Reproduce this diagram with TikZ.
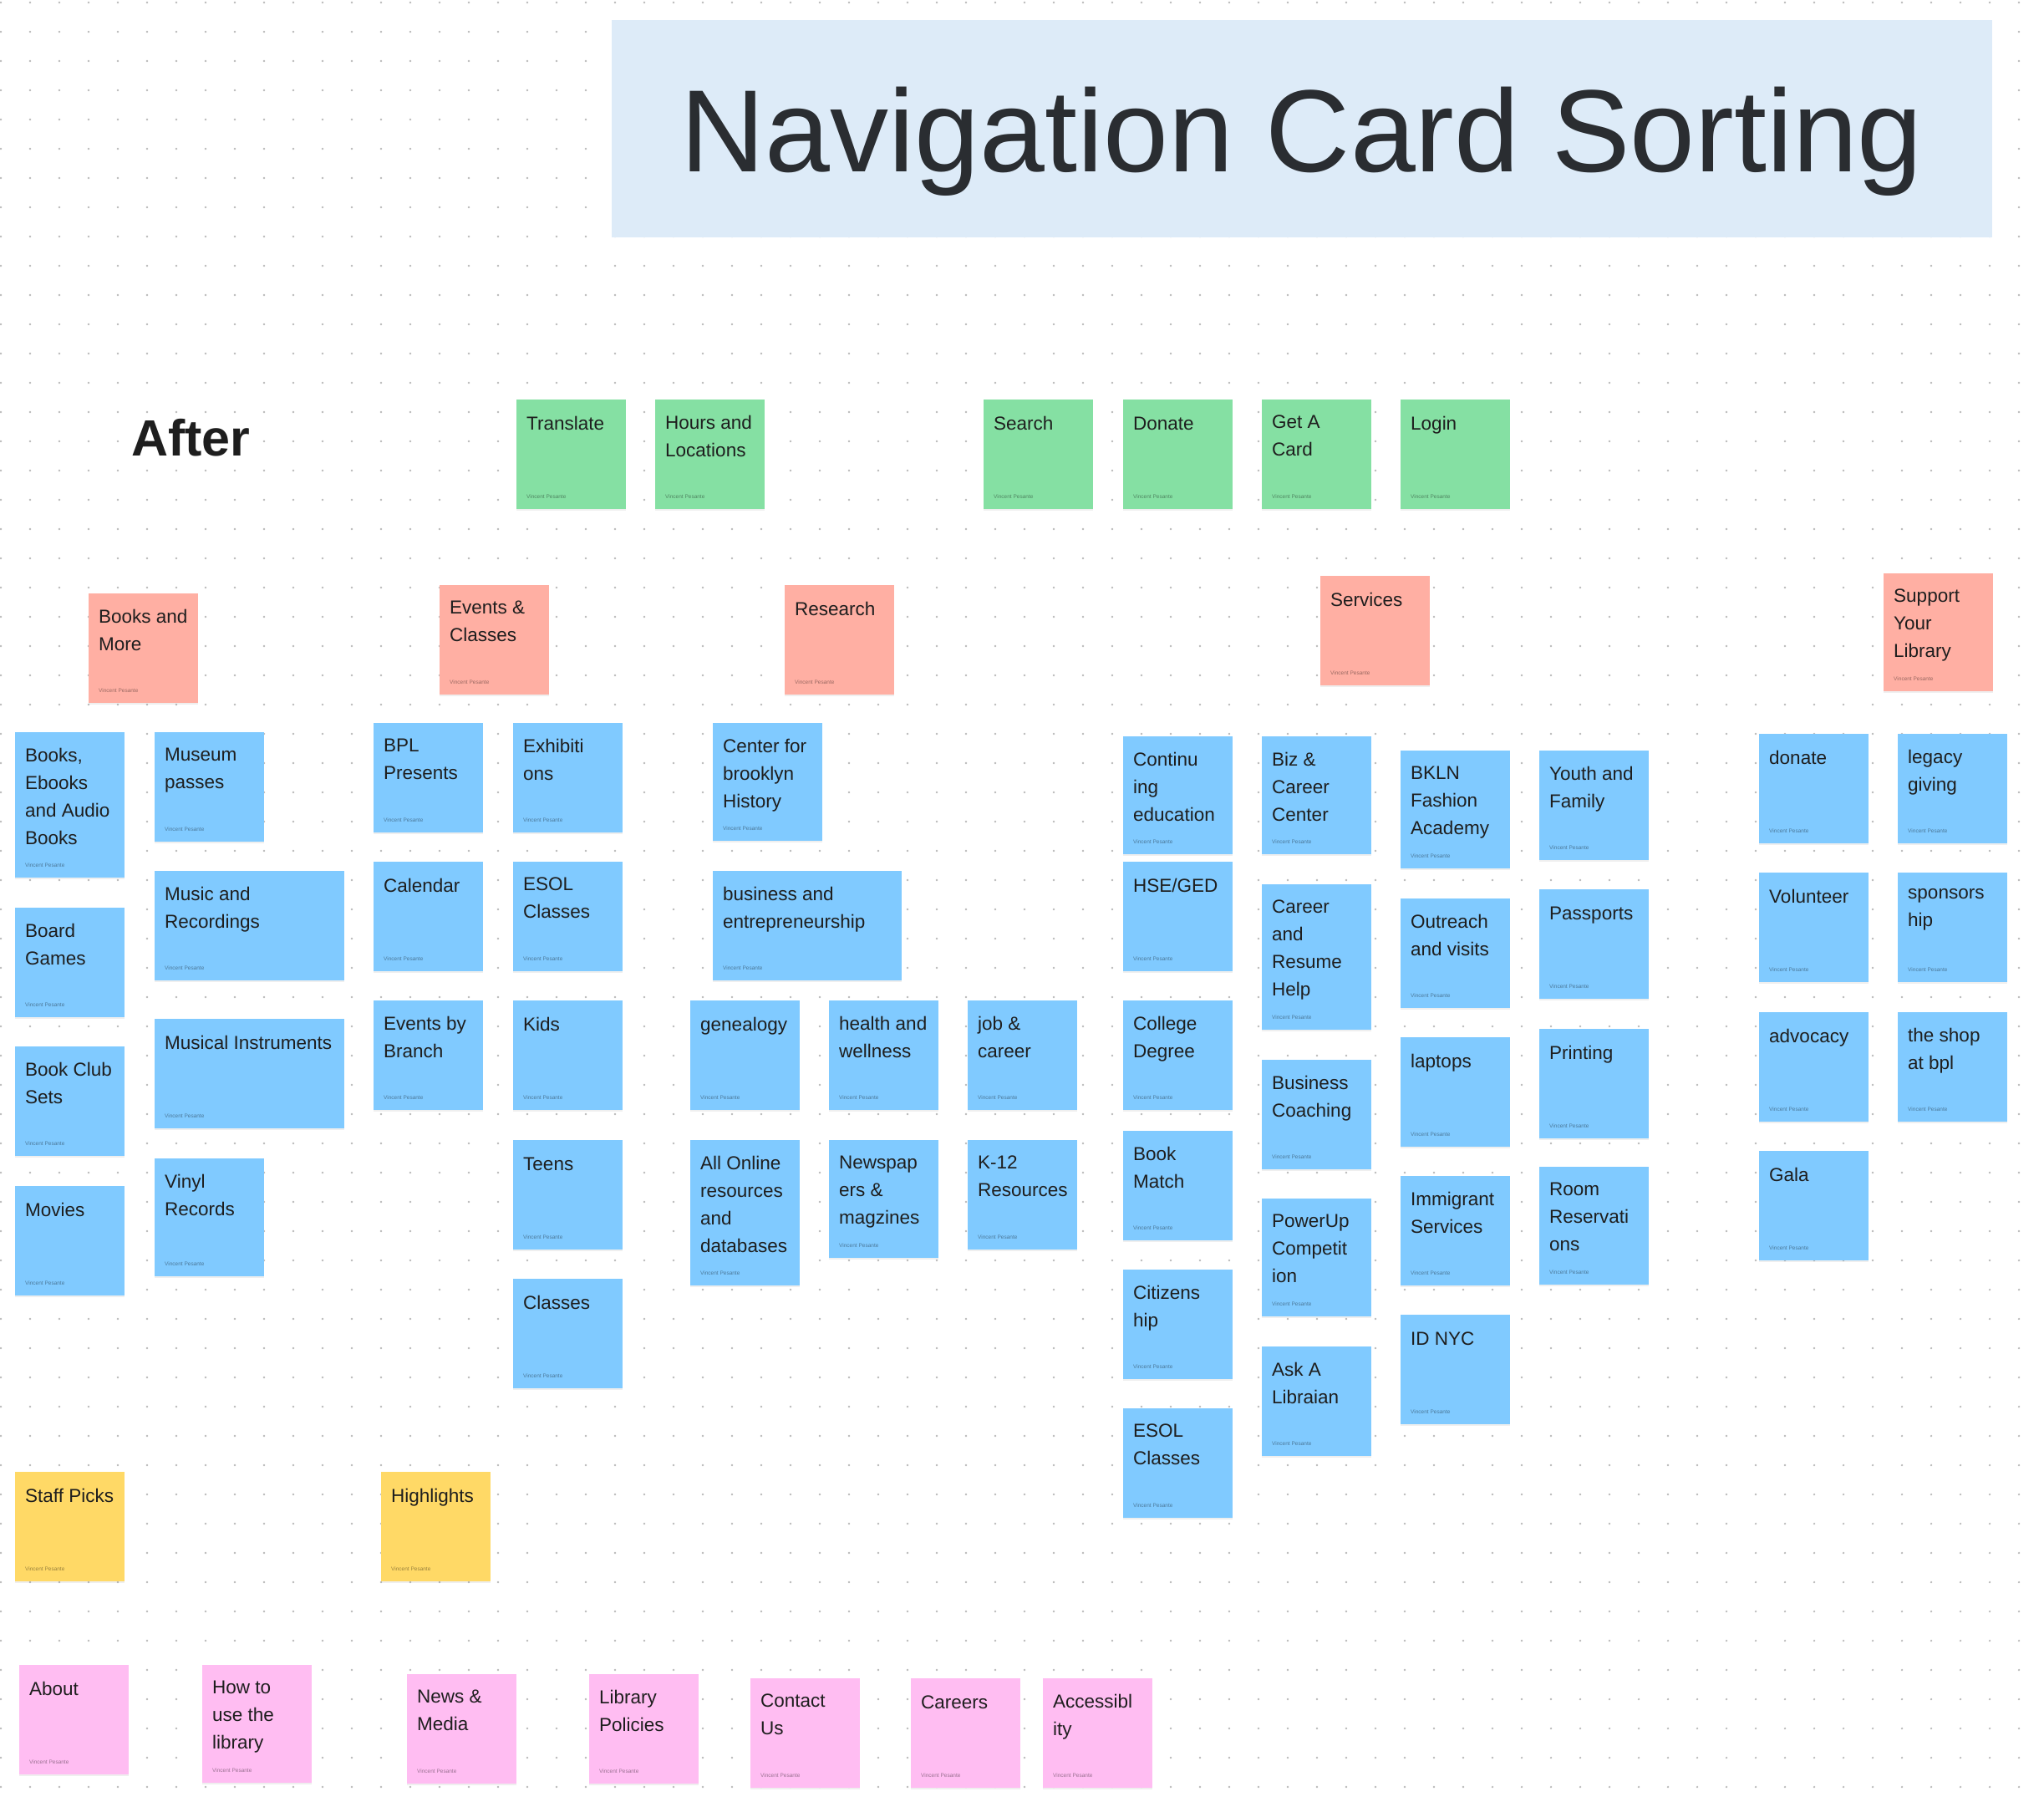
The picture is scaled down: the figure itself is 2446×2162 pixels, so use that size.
\documentclass[tikz,border=0pt]{standalone}
\usepackage{fontspec}
\setmainfont{Liberation Sans}
\usetikzlibrary{shadows}

\definecolor{ngreen}{HTML}{85E0A3}
\definecolor{nred}{HTML}{FFAFA3}
\definecolor{nblue}{HTML}{80CAFF}
\definecolor{nyellow}{HTML}{FFD966}
\definecolor{npink}{HTML}{FFBDF2}
\definecolor{sectionblue}{HTML}{DDEBF8}
\definecolor{inkdark}{HTML}{1E1E1E}
\definecolor{titleink}{HTML}{2A2D31}
\definecolor{dotgray}{HTML}{B9B9B9}

\tikzset{
  note/.style={rectangle, anchor=north west, inner sep=0pt,
    drop shadow={opacity=0.12, shadow xshift=0pt, shadow yshift=-2pt}},
  notetext/.style={anchor=north west, inner sep=0pt, align=left,
    xshift=12pt, yshift=-19pt, text=inkdark,
    font=\fontsize{22.5}{33}\selectfont,
    execute at begin node={\rule{0pt}{17pt}}},
  noteby/.style={anchor=base west, inner sep=0pt, xshift=12pt, yshift=13pt,
    text=black, text opacity=0.4, font=\fontsize{6.5}{7}\selectfont},
  titlebox/.style={rectangle, anchor=north west, inner sep=0pt, fill=sectionblue},
}

\begin{document}
\begin{tikzpicture}[x=1pt,y=-1pt]
  \useasboundingbox (0,0) rectangle (2446,2162);
  \fill[white] (0,0) rectangle (2446,2162);

  % dot grid of the board
  \foreach \i in {0,...,69}
    \foreach \j in {0,...,61}
      \fill[dotgray] ({1+35*\i},{3+35*\j}) circle (1.3pt);

  % heading
  \node[titlebox, minimum width=1652pt, minimum height=260pt] (titlebg) at (732,24) {};
  \node[anchor=base, inner sep=0pt, text=titleink, font=\fontsize{140}{160}\selectfont]
    (title) at (1558,206) {Navigation Card Sorting};
  \node[anchor=base west, inner sep=0pt, text=inkdark, font=\fontsize{61}{70}\selectfont\bfseries]
    (after) at (157,545) {After};

  % sticky notes: name/colour/x/y/width/height/text
  \foreach \nm/\col/\x/\y/\w/\h/\txt in {
    translate/ngreen/618/478/131/131/Translate,
    hours/ngreen/784/478/131/131/{Hours and\\Locations},
    search/ngreen/1177/478/131/131/Search,
    donate/ngreen/1344/478/131/131/Donate,
    getcard/ngreen/1510/478/131/131/{Get A\\Card},
    login/ngreen/1676/478/131/131/Login,
    booksmore/nred/106/710/131/131/{Books and\\More},
    events/nred/526/700/131/131/{Events \&\\Classes},
    research/nred/939/700/131/131/Research,
    services/nred/1580/689/131/131/Services,
    support/nred/2254/686/131/141/{Support\\Your\\Library},
    books/nblue/18/876/131/174/{Books,\\Ebooks\\and Audio\\Books},
    museum/nblue/185/876/131/131/{Museum\\passes},
    music/nblue/185/1042/227/131/{Music and\\Recordings},
    boardgames/nblue/18/1086/131/131/{Board\\Games},
    instruments/nblue/185/1219/227/131/{Musical Instruments},
    bookclub/nblue/18/1252/131/131/{Book Club\\Sets},
    movies/nblue/18/1419/131/131/Movies,
    vinyl/nblue/185/1386/131/141/{Vinyl\\Records},
    bpl/nblue/447/865/131/131/{BPL\\Presents},
    exhibitions/nblue/614/865/131/131/{Exhibiti\\ons},
    calendar/nblue/447/1031/131/131/Calendar,
    esol/nblue/614/1031/131/131/{ESOL\\Classes},
    bybranch/nblue/447/1197/131/131/{Events by\\Branch},
    kids/nblue/614/1197/131/131/Kids,
    teens/nblue/614/1364/131/131/Teens,
    classes/nblue/614/1530/131/131/Classes,
    history/nblue/853/865/131/141/{Center for\\brooklyn\\History},
    business/nblue/853/1042/226/131/{business and\\entrepreneurship},
    genealogy/nblue/826/1197/131/131/genealogy,
    health/nblue/992/1197/131/131/{health and\\wellness},
    job/nblue/1158/1197/131/131/{job \&\\career},
    online/nblue/826/1364/131/174/{All Online\\resources\\and\\databases},
    newspapers/nblue/992/1364/131/141/{Newspap\\ers \&\\magzines},
    kgrades/nblue/1158/1364/131/131/{K-12\\Resources},
    continuing/nblue/1344/881/131/141/{Continu\\ing\\education},
    hse/nblue/1344/1031/131/131/{HSE/GED},
    college/nblue/1344/1197/131/131/{College\\Degree},
    bookmatch/nblue/1344/1353/131/131/{Book\\Match},
    citizenship/nblue/1344/1519/131/131/{Citizens\\hip},
    esoltwo/nblue/1344/1685/131/131/{ESOL\\Classes},
    bizcareer/nblue/1510/881/131/141/{Biz \&\\Career\\Center},
    resume/nblue/1510/1058/131/174/{Career\\and\\Resume\\Help},
    coaching/nblue/1510/1268/131/131/{Business\\Coaching},
    powerup/nblue/1510/1434/131/141/{PowerUp\\Competit\\ion},
    librarian/nblue/1510/1611/131/131/{Ask A\\Libraian},
    bkln/nblue/1676/898/131/141/{BKLN\\Fashion\\Academy},
    outreach/nblue/1676/1075/131/131/{Outreach\\and visits},
    laptops/nblue/1676/1241/131/131/laptops,
    immigrant/nblue/1676/1407/131/131/{Immigrant\\Services},
    idnyc/nblue/1676/1573/131/131/ID NYC,
    youth/nblue/1842/898/131/131/{Youth and\\Family},
    passports/nblue/1842/1064/131/131/Passports,
    printing/nblue/1842/1231/131/131/Printing,
    rooms/nblue/1842/1396/131/141/{Room\\Reservati\\ons},
    donatetwo/nblue/2105/878/131/131/donate,
    volunteer/nblue/2105/1044/131/131/Volunteer,
    advocacy/nblue/2105/1211/131/131/advocacy,
    gala/nblue/2105/1377/131/131/Gala,
    legacy/nblue/2271/878/131/131/{legacy\\giving},
    sponsors/nblue/2271/1044/131/131/{sponsors\\hip},
    shop/nblue/2271/1211/131/131/{the shop\\at bpl},
    staffpicks/nyellow/18/1761/131/131/Staff Picks,
    highlights/nyellow/456/1761/131/131/Highlights,
    about/npink/23/1992/131/131/About,
    howto/npink/242/1992/131/141/{How to\\use the\\library},
    news/npink/487/2003/131/131/{News \&\\Media},
    policies/npink/705/2003/131/131/{Library\\Policies},
    contact/npink/898/2008/131/131/{Contact\\Us},
    careers/npink/1090/2008/131/131/Careers,
    access/npink/1248/2008/131/131/{Accessibl\\ity}} {
    \node[note, fill=\col, minimum width=\w pt, minimum height=\h pt] (\nm) at (\x,\y) {};
    \node[notetext] (\nm-t) at (\nm.north west) {\txt};
    \node[noteby] (\nm-b) at (\nm.south west) {Vincent Pesante};
  }
\end{tikzpicture}
\end{document}
